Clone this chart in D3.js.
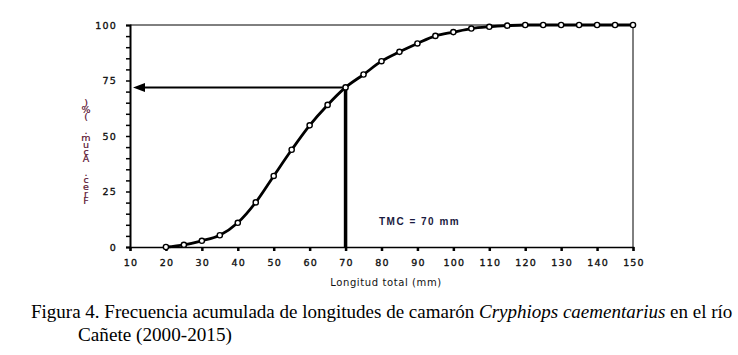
<!DOCTYPE html>
<html>
<head>
<meta charset="utf-8">
<script src="https://cdn.jsdelivr.net/npm/d3@7"></script>
<style>
  body { margin: 0; background: #fff; }
  svg { display: block; }
</style>
</head>
<body>
<script>
// cumulative length frequency
var lengths = [20, 25, 30, 35, 40, 45, 50, 55, 60, 65, 70, 75, 80, 85, 90, 95, 100, 105, 110, 115, 120, 125, 130, 135, 140, 145, 150];
var cumFreq = [0, 1, 2.8, 5.3, 10.9, 20.1, 32, 43.8, 54.8, 64, 71.9, 77.7, 83.7, 87.9, 91.7, 95.1, 96.8, 98.4, 99.2, 99.7, 100, 100, 100, 100, 100, 100, 100];
var xTicks = [10, 20, 30, 40, 50, 60, 70, 80, 90, 100, 110, 120, 130, 140, 150];
var yTicks = [0, 25, 50, 75, 100];
var tmc = 70, tmcPct = 71.9;
var yLabel = "Frec. Acum. (%)";

var W = 738, H = 355;
var svg = d3.select("body").append("svg").attr("width", W).attr("height", H);

var x = d3.scaleLinear().domain([10, 150]).range([130, 633]);
var y = d3.scaleLinear().domain([0, 100]).range([247, 25]);

var tickFont = "Verdana, 'DejaVu Sans', sans-serif";

// plot frame (top + right)
svg.append("path")
  .attr("d", "M" + x(10) + "," + y(100) + "H" + x(150) + "V" + y(0))
  .attr("fill", "none").attr("stroke", "#000").attr("stroke-width", 1);

// y axis
var yAxis = svg.append("g").attr("transform", "translate(" + x(10) + ",0)")
  .call(d3.axisLeft(y).tickValues(d3.range(0, 101, 5)).tickSize(4).tickFormat(""));
yAxis.select(".domain").attr("stroke-width", 2);
yAxis.selectAll(".tick line").attr("stroke-width", 1.5);

svg.selectAll(".ylab").data(yTicks).enter().append("text")
  .attr("x", 117).attr("y", d => y(d) + 3.5)
  .attr("text-anchor", "end")
  .attr("font-family", tickFont).attr("font-size", 9.5)
  .attr("letter-spacing", 1.2).attr("fill", "#111")
  .attr("stroke", "#111").attr("stroke-width", 0.35)
  .text(d => d);

// x axis
var xAxis = svg.append("g").attr("transform", "translate(0," + y(0) + ")")
  .call(d3.axisBottom(x).tickValues(xTicks).tickSize(4).tickFormat(""));
xAxis.select(".domain").attr("stroke-width", 1.5);
xAxis.selectAll(".tick line").attr("stroke-width", 2.5);

svg.selectAll(".xlab").data(xTicks).enter().append("text")
  .attr("x", d => x(d) + 1).attr("y", 266)
  .attr("text-anchor", "middle")
  .attr("font-family", tickFont).attr("font-size", 9.5)
  .attr("letter-spacing", 1.2).attr("fill", "#111")
  .attr("stroke", "#111").attr("stroke-width", 0.35)
  .text(d => d);

svg.append("text")
  .attr("x", 386).attr("y", 286).attr("text-anchor", "middle")
  .attr("font-family", tickFont).attr("font-size", 10)
  .attr("letter-spacing", 0.6).attr("fill", "#111")
  .text("Longitud total (mm)");

// y label: upright characters stacked bottom to top
svg.append("text")
  .attr("x", 86).attr("y", 97)
  .attr("font-family", tickFont).attr("font-size", 9.5)
  .attr("letter-spacing", -4)
  .attr("fill", "#5a1030")
  .attr("stroke", "#5a1030").attr("stroke-width", 0.2)
  .style("writing-mode", "vertical-rl")
  .style("text-orientation", "upright")
  .text(yLabel.split("").reverse().join(""));

// TMC guide lines
svg.append("line")
  .attr("x1", x(tmc)).attr("x2", x(tmc))
  .attr("y1", y(tmcPct)).attr("y2", y(0))
  .attr("stroke", "#000").attr("stroke-width", 3.5);
svg.append("line")
  .attr("x1", x(tmc)).attr("x2", x(10) + 10)
  .attr("y1", y(tmcPct)).attr("y2", y(tmcPct))
  .attr("stroke", "#000").attr("stroke-width", 2);
svg.append("path")
  .attr("d", "M" + (x(10) + 3) + "," + y(tmcPct) + "l12,-4.5v9z")
  .attr("fill", "#000");

// curve
var line = d3.line().x((d, i) => x(lengths[i])).y(d => y(d)).curve(d3.curveMonotoneX);
svg.append("path").datum(cumFreq)
  .attr("d", line).attr("fill", "none")
  .attr("stroke", "#000").attr("stroke-width", 2.8);

svg.selectAll(".pt").data(cumFreq).enter().append("circle")
  .attr("cx", (d, i) => x(lengths[i])).attr("cy", d => y(d))
  .attr("r", 2.6).attr("fill", "#fff")
  .attr("stroke", "#000").attr("stroke-width", 1.4);

svg.append("text")
  .attr("x", 379).attr("y", 225)
  .attr("font-family", "'Liberation Sans', Arial, sans-serif")
  .attr("font-size", 10).attr("font-weight", "bold")
  .attr("letter-spacing", 1.5).attr("fill", "#1a1a40")
  .text("TMC = " + tmc + " mm");

// caption, stretched to the reference line widths
function fitWidth(sel, x0, width) {
  var w = sel.node().getComputedTextLength();
  sel.attr("transform", "translate(" + x0 + ",0) scale(" + (width / w) + ",1) translate(" + (-x0) + ",0)");
}
var capFont = "'Liberation Serif', 'Times New Roman', serif";
var cap1 = svg.append("text")
  .attr("x", 31).attr("y", 318)
  .attr("font-family", capFont).attr("font-size", 18).attr("fill", "#000");
cap1.append("tspan").text("Figura 4. Frecuencia acumulada de longitudes de camarón ");
cap1.append("tspan").attr("font-style", "italic").text("Cryphiops caementarius");
cap1.append("tspan").text(" en el río");
fitWidth(cap1, 31, 702);

var cap2 = svg.append("text")
  .attr("x", 78).attr("y", 341)
  .attr("font-family", capFont).attr("font-size", 18).attr("fill", "#000")
  .text("Cañete (2000-2015)");
fitWidth(cap2, 78, 154);
</script>
</body>
</html>
